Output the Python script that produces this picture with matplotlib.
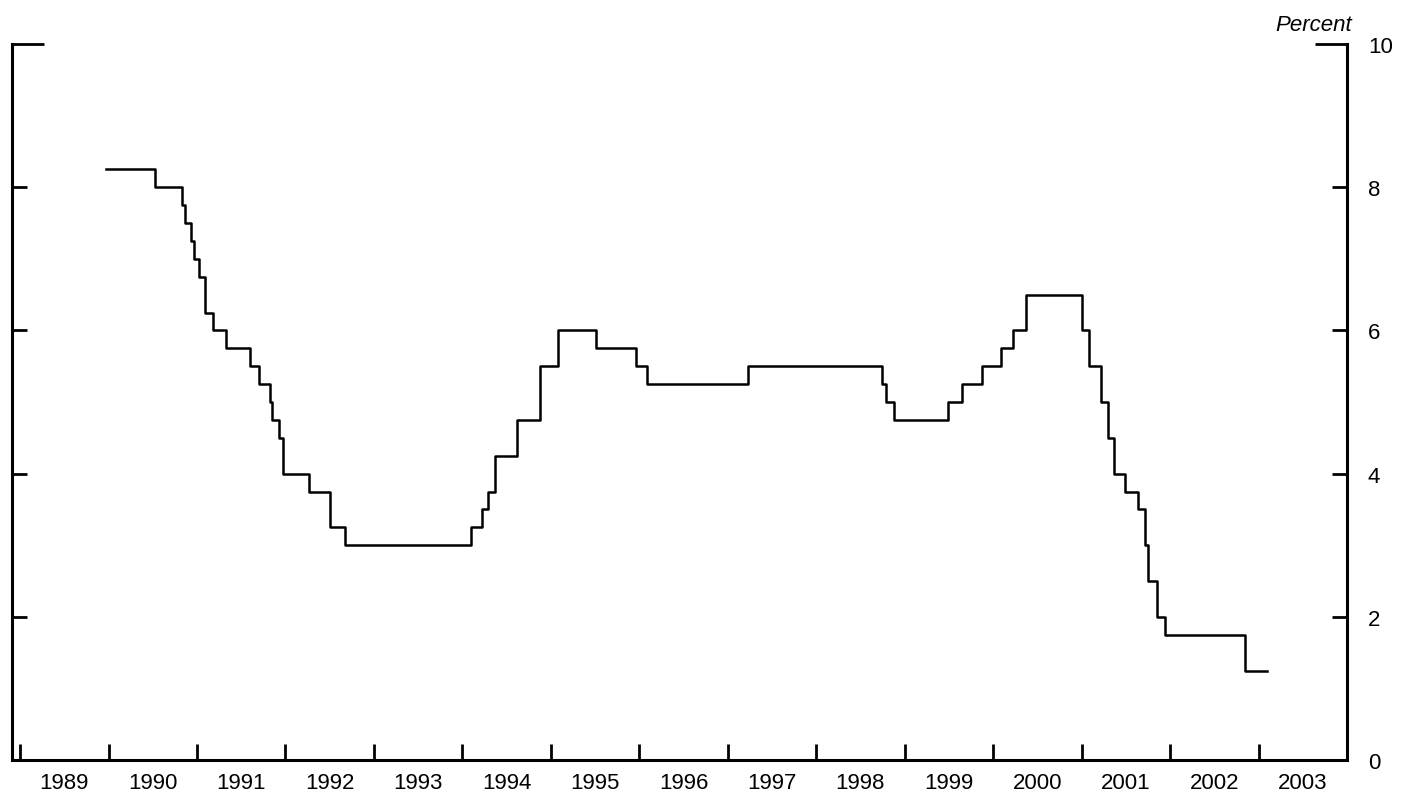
import pandas as pd
import matplotlib
matplotlib.use('Agg')
import matplotlib.pyplot as plt

plt.rcParams['font.family'] = ['Liberation Sans', 'DejaVu Sans']

# federal funds target rate, date of each change
change_dates = ['1989-12-20', '1990-07-13', '1990-10-29', '1990-11-13', '1990-12-07',
                '1990-12-18', '1991-01-08', '1991-02-01', '1991-03-08', '1991-04-30',
                '1991-08-06', '1991-09-13', '1991-10-31', '1991-11-06', '1991-12-06',
                '1991-12-20', '1992-04-09', '1992-07-02', '1992-09-04', '1994-02-04',
                '1994-03-22', '1994-04-18', '1994-05-17', '1994-08-16', '1994-11-15',
                '1995-02-01', '1995-07-06', '1995-12-19', '1996-01-31', '1997-03-25',
                '1998-09-29', '1998-10-15', '1998-11-17', '1999-06-30', '1999-08-24',
                '1999-11-16', '2000-02-02', '2000-03-21', '2000-05-16', '2001-01-03',
                '2001-01-31', '2001-03-20', '2001-04-18', '2001-05-15', '2001-06-27',
                '2001-08-21', '2001-09-17', '2001-10-02', '2001-11-06', '2001-12-11',
                '2002-11-06', '2003-02-05']
target_rate = [8.25, 8.0, 7.75, 7.5, 7.25,
               7.0, 6.75, 6.25, 6.0, 5.75,
               5.5, 5.25, 5.0, 4.75, 4.5,
               4.0, 3.75, 3.25, 3.0, 3.25,
               3.5, 3.75, 4.25, 4.75, 5.5,
               6.0, 5.75, 5.5, 5.25, 5.5,
               5.25, 5.0, 4.75, 5.0, 5.25,
               5.5, 5.75, 6.0, 6.5, 6.0,
               5.5, 5.0, 4.5, 4.0, 3.75,
               3.5, 3.0, 2.5, 2.0, 1.75,
               1.25, 1.25]

years = list(range(1989, 2004))
y_ticks = [0, 2, 4, 6, 8]

dates = pd.to_datetime(change_dates)

fig = plt.figure(figsize=(14.15, 8.03), dpi=100)
ax = fig.add_axes([12/1415, 1 - 761/803, (1347 - 12)/1415, (761 - 45)/803])

ax.plot(dates, target_rate, drawstyle='steps-post', color='black', linewidth=1.8)

ax.set_xlim(pd.Timestamp('1988-11-28'), pd.Timestamp('2004-01-01'))
ax.set_ylim(0, 10)

# year boundaries as ticks, labels in the middle of each year
ax.set_xticks(pd.to_datetime([f'{y}-01-01' for y in years]))
ax.set_xticklabels([])
ax.set_xticks(pd.to_datetime([f'{y}-07-02' for y in years]), minor=True)
ax.set_xticklabels([str(y) for y in years], minor=True)
ax.tick_params(axis='x', which='major', direction='in', length=11.5, width=2)
ax.tick_params(axis='x', which='minor', length=0, pad=9, labelsize=16)

ax.set_yticks(y_ticks)
ax.set_yticklabels([str(v) for v in y_ticks])
ax.set_yticks([10], minor=True)
ax.set_yticklabels(['10'], minor=True)
ax.tick_params(axis='y', which='both', left=True, right=True, direction='in',
               labelleft=False, labelright=True, pad=15, labelsize=16, width=2)
ax.tick_params(axis='y', which='major', length=11)
ax.tick_params(axis='y', which='minor', length=23)

ax.spines['top'].set_visible(False)
for side in ['left', 'right', 'bottom']:
    ax.spines[side].set_linewidth(2.2)

ax.text(1.004, 1.02, 'Percent', transform=ax.transAxes, ha='right', va='baseline',
        fontsize=16, style='italic')

fig.savefig('out.png', dpi=100)
